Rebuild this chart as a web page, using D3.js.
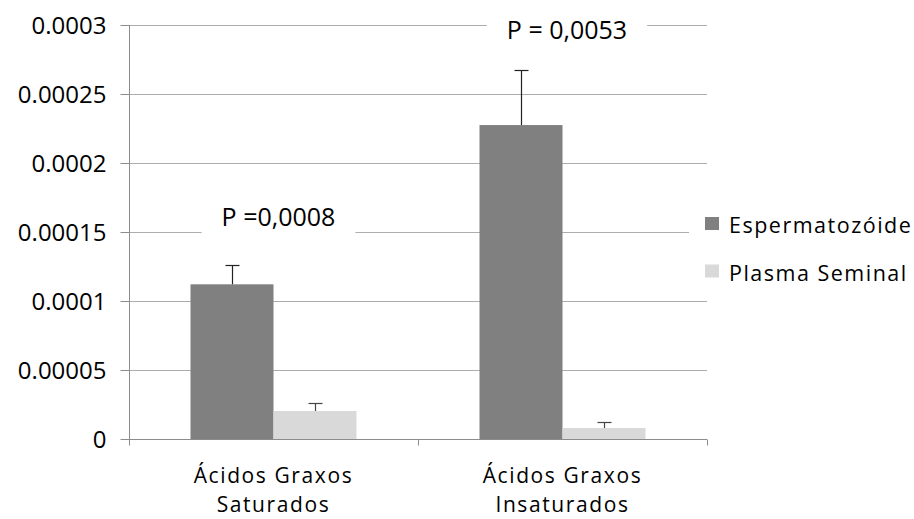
<!DOCTYPE html>
<html>
<head>
<meta charset="utf-8">
<script src="https://cdn.jsdelivr.net/npm/d3@7"></script>
<style>
  html, body { margin: 0; padding: 0; background: #fff; }
  svg { display: block; }
  text { font-family: "Open Sans", "Noto Sans", sans-serif; fill: #000; }
</style>
</head>
<body>
<svg id="chart" width="914" height="519"></svg>
<script>
// ---- data ----
const categories = [["Ácidos Graxos", "Saturados"], ["Ácidos Graxos", "Insaturados"]];
const seriesNames = ["Espermatozóide", "Plasma Seminal"];
const espermatozoide = [0.0001121, 0.0002275];
const espermatozoideErr = [0.0000142, 0.0000397];
const plasmaSeminal = [0.0000203, 0.0000080];
const plasmaSeminalErr = [0.0000060, 0.0000041];
const yTicks = [0, 0.00005, 0.0001, 0.00015, 0.0002, 0.00025, 0.0003];
const yTickLabels = ["0", "0.00005", "0.0001", "0.00015", "0.0002", "0.00025", "0.0003"];
const pLabels = ["P =0,0008", "P = 0,0053"];
const pLevels = [0.00015, 0.0003];

const colors = ["#808080", "#d9d9d9"];
const errColors = ["#222", "#444"];

const svg = d3.select("#chart");
const mLeft = 129, mRight = 707, mTop = 25, mBottom = 439;

const y = d3.scaleLinear().domain([0, 0.0003]).range([mBottom, mTop]);
const x0 = d3.scaleBand().domain(d3.range(categories.length)).range([mLeft, mRight]).paddingInner(0).paddingOuter(0);
const x1 = d3.scaleBand().domain(d3.range(seriesNames.length)).range([0, x0.bandwidth()]).paddingInner(0).paddingOuter(0.741);

// gridlines
svg.append("g").selectAll("line").data(yTicks.slice(1)).join("line")
  .attr("x1", mLeft).attr("x2", mRight)
  .attr("y1", d => Math.round(y(d)) + 0.5).attr("y2", d => Math.round(y(d)) + 0.5)
  .attr("stroke", "#adadad").attr("stroke-width", 1);

// bars
const values = [espermatozoide, plasmaSeminal];
const errs = [espermatozoideErr, plasmaSeminalErr];
const barData = [];
categories.forEach((c, ci) => seriesNames.forEach((s, si) => {
  barData.push({ ci, si, v: values[si][ci], e: errs[si][ci] });
}));

svg.append("g").selectAll("rect").data(barData).join("rect")
  .attr("x", d => x0(d.ci) + x1(d.si))
  .attr("width", x1.bandwidth())
  .attr("y", d => y(d.v))
  .attr("height", d => y(0) - y(d.v))
  .attr("fill", d => colors[d.si]);

// error bars (upper only)
const eg = svg.append("g");
barData.forEach(d => {
  const cx = Math.round(x0(d.ci) + x1(d.si) + x1.bandwidth() / 2) + 0.5;
  const yt = Math.round(y(d.v + d.e)) + 0.5;
  eg.append("line").attr("x1", cx).attr("x2", cx).attr("y1", y(d.v)).attr("y2", yt)
    .attr("stroke", errColors[d.si]).attr("stroke-width", 1.2);
  eg.append("line").attr("x1", cx - 7).attr("x2", cx + 7).attr("y1", yt).attr("y2", yt)
    .attr("stroke", errColors[d.si]).attr("stroke-width", 1.2);
});

// y axis
const yAxis = svg.append("g").attr("transform", `translate(${mLeft + 0.5},0)`)
  .call(d3.axisLeft(y).tickValues(yTicks).tickFormat((d, i) => yTickLabels[i]).tickSize(9).tickPadding(14));
yAxis.select(".domain").attr("stroke", "#8c8c8c").attr("d", `M0,${mTop}V${mBottom}`);
yAxis.selectAll(".tick line").attr("stroke", "#8c8c8c");
yAxis.selectAll(".tick text").attr("font-family", "'Open Sans', sans-serif").attr("font-size", 24).attr("fill", "#000").attr("dy", "0.34em");

// x axis
const xg = svg.append("g").attr("transform", `translate(0,${mBottom + 0.5})`);
xg.append("line").attr("x1", mLeft).attr("x2", mRight).attr("stroke", "#8c8c8c");
const xTickPos = d3.range(categories.length + 1).map(i => i < categories.length ? x0(i) : x0(i - 1) + x0.bandwidth());
xg.selectAll(".xt").data(xTickPos).join("line").attr("class", "xt")
  .attr("x1", d => Math.round(d) + 0.5).attr("x2", d => Math.round(d) + 0.5)
  .attr("y1", 0).attr("y2", 6).attr("stroke", "#8c8c8c");

categories.forEach((lines, ci) => {
  const cx = x0(ci) + x0.bandwidth() / 2;
  lines.forEach((ln, li) => {
    xg.append("text").attr("x", cx).attr("y", 43 + li * 29.5)
      .attr("text-anchor", "middle").attr("font-size", 21)
      .style("letter-spacing", "1.6px")
      .text(ln);
  });
});

// P-value annotations with white background
const pOffsets = [[5, -6], [4.5, 14]];
pLabels.forEach((lab, i) => {
  const cx = x0(i) + x0.bandwidth() / 2 + pOffsets[i][0];
  const ty = y(pLevels[i]) + pOffsets[i][1];
  const g = svg.append("g");
  const rect = g.append("rect").attr("fill", "#fff");
  const t = g.append("text").attr("x", cx).attr("y", ty).attr("text-anchor", "middle")
    .attr("font-size", 25).text(lab);
  const bb = t.node().getBBox();
  const padX = 20;
  rect.attr("x", bb.x - padX).attr("width", bb.width + 2 * padX)
      .attr("y", y(pLevels[i]) - 4).attr("height", 8);
});

// legend (white background box over gridline ends)
const lg = svg.append("g");
lg.append("rect").attr("x", 689).attr("y", 205).attr("width", 225).attr("height", 88).attr("fill", "#fff");
seriesNames.forEach((s, i) => {
  const cy = 223.5 + i * 47.5;
  lg.append("rect").attr("x", 705).attr("y", cy - 6.5).attr("width", 14).attr("height", 13).attr("fill", colors[i]);
  lg.append("text").attr("x", 729).attr("y", cy + 9.5).attr("font-size", 21.5)
    .style("letter-spacing", "1.5px").text(s);
});
</script>
</body>
</html>
